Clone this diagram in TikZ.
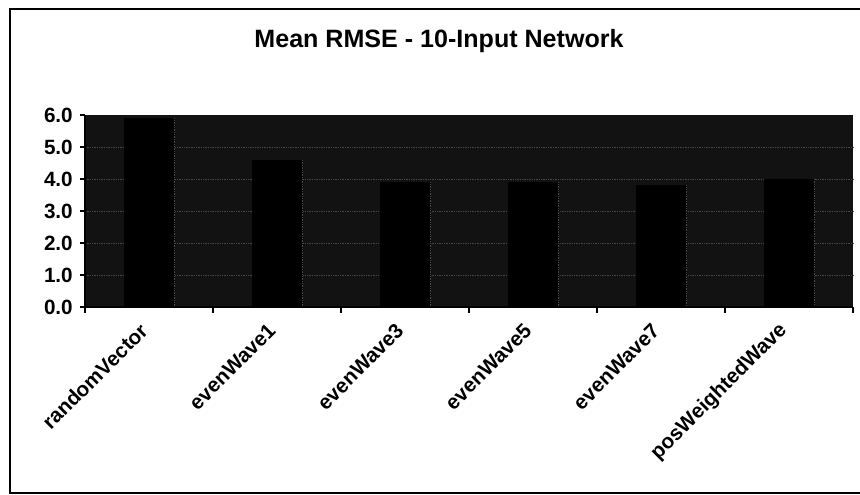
\documentclass[tikz,border=0pt]{standalone}
\usepackage{fontspec}
\setmainfont{Liberation Sans}
\begin{document}
\begin{tikzpicture}[x=0.75pt, y=-0.75pt,
  every node/.style={font=\bfseries\fontsize{15.5}{18}\selectfont, inner sep=0pt}]

\def\yz{307}  %% y of 0.0 (px)
\def\du{32}   %% 1.0 → 32 px
\def\cw{128}  %% category width
\def\bw{51}   %% bar width (gap 150%)

\useasboundingbox (0,0) rectangle (860,495);
\fill[white] (0,0) rectangle (860,495);

%% ── Chart frame ──────────────────────────────────────────────────────────────
\draw[line width=1.1pt] (870,9) -- (10,9) -- (10,493) -- (870,493);

%% ── Title ────────────────────────────────────────────────────────────────────
\node[font=\bfseries\fontsize{18.8}{22}\selectfont] (title) at (439,41)
  {Mean RMSE - 10-Input Network};

%% ── Plot area ────────────────────────────────────────────────────────────────
\fill[black!93] (85,{\yz-6*\du}) rectangle (853,\yz);
\foreach \v in {1,...,5}{
  \draw[black!72, densely dotted, line width=0.3pt]
    (85,{\yz-\v*\du}) -- (853,{\yz-\v*\du});
}

%% ── Bars + category labels ───────────────────────────────────────────────────
\foreach \i/\v/\n in {0/5.9/randomVector, 1/4.6/evenWave1, 2/3.9/evenWave3,
                      3/3.9/evenWave5, 4/3.8/evenWave7, 5/4.0/posWeightedWave}{
  \fill[black] ({85+\cw*\i+(\cw-\bw)/2},{\yz-\v*\du}) rectangle ++(\bw,{\v*\du});
  \draw[black!70, densely dotted, line width=0.3pt]
    ({85+\cw*\i+(\cw+\bw)/2},{\yz-\v*\du}) -- ({85+\cw*\i+(\cw+\bw)/2},\yz);
  \node[rotate=45, anchor=east] (cat\i) at ({85+\cw*\i+\cw/2-5},327) {\n};
}

%% ── Axes ─────────────────────────────────────────────────────────────────────
\draw[line width=0.9pt] (85,{\yz-6*\du}) -- (85,\yz) -- (853,\yz);
\foreach \v in {0,...,6}{
  \draw[line width=0.9pt] (80,{\yz-\v*\du}) -- (85,{\yz-\v*\du});
  \node[anchor=east] (yl\v) at (73,{\yz-\v*\du}) {\v.0};
}
\foreach \k in {0,...,6}{
  \draw[line width=0.9pt] ({85+\cw*\k},\yz) -- ({85+\cw*\k},{\yz+6});
}

\end{tikzpicture}
\end{document}
